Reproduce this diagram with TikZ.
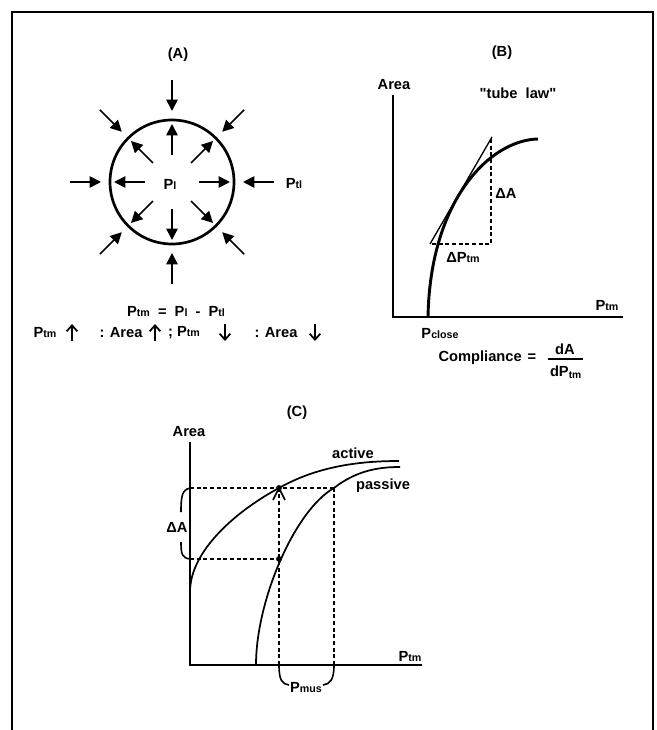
\documentclass[tikz,border=0pt]{standalone}
\usepackage{fontspec}
\setmainfont{Liberation Sans}
\newfontfamily\qfont{Liberation Sans}
\usetikzlibrary{arrows.meta,calc}
\newcommand\sm[1]{{\fontsize{8}{9}\selectfont #1}}
\newcommand\dq{{\qfont\bfseries "}}
\begin{document}
\begin{tikzpicture}[x=0.75pt,y=-0.75pt,
  font=\bfseries\fontsize{11}{13}\selectfont,
  bigarrow/.style={line width=1.3pt,-{Triangle[length=8.5pt,width=8.5pt]}},
  axisline/.style={line width=1.5pt},
  dashline/.style={line width=1.2pt,dash pattern=on 3pt off 2pt},
  lbl/.style={inner sep=0pt},
  smallarrow/.style={line width=1.3pt,-{Straight Barb[length=4.5pt,width=8pt,line width=1.3pt]}}]
\useasboundingbox (0,0) rectangle (656,730);
% frame
\draw[line width=1.5pt] (12,730) -- (12,12) -- (653,12) -- (653,730);

%%%%% (A)
\node[lbl] (labA) at (178,55) {(A)};
\node[circle,draw,line width=2pt,minimum size=93pt,inner sep=0pt] (c) at (172,182) {};
\node[lbl] (pl) at (170,184) {P\sm{l}};
\node[lbl] (ptl) at (294,184) {P\sm{tl}};
\foreach \a in {0,45,...,315} {
  \draw[bigarrow] ($(c.center)+(\a:102)$) -- ($(c.center)+(\a:71)$);
  \draw[bigarrow] ($(c.center)+(\a:27)$) -- ($(c.center)+(\a:58)$);
}
\node[lbl] (eq) at (176,312) {P\sm{tm} \ = \ P\sm{l} \ - \ P\sm{tl}};
\node[lbl] (r1) at (45,333) {P\sm{tm}};
\node[lbl] (r2) at (121,333) {: Area};
\node[lbl] (r3) at (184,333) {; P\sm{tm}};
\node[lbl] (r4) at (276,333) {: Area};
\coordinate (u1a) at (72,341); \coordinate (u1b) at (72,324);
\coordinate (u2a) at (155,341); \coordinate (u2b) at (155,324);
\coordinate (d1a) at (225,324); \coordinate (d1b) at (225,341);
\coordinate (d2a) at (315,324); \coordinate (d2b) at (315,341);
\draw[smallarrow] (u1a) -- (u1b);
\draw[smallarrow] (u2a) -- (u2b);
\draw[smallarrow] (d1a) -- (d1b);
\draw[smallarrow] (d2a) -- (d2b);

%%%%% (B)
\node[lbl] (labB) at (502,53) {(B)};
\node[lbl] (areaB) at (394,85) {Area};
\node[lbl] (tube) at (518,93) {\dq tube\ \ law\dq};
\coordinate (oB) at (393,317);
\coordinate (yB) at (393,95);
\coordinate (xB) at (623,317);
\draw[axisline] (yB) -- (oB) -- (xB);
\node[lbl] (ptmB) at (607,306) {P\sm{tm}};
\node[lbl] (pclose) at (440,334) {P\sm{close}};
\coordinate (b0) at (428,317);
\coordinate (b3) at (538,139);
\draw[line width=2.2pt] (b0) .. controls (430,200) and (490,140) .. (b3);
\coordinate (t0) at (430,244);
\coordinate (t1) at (492,137);
\coordinate (tc) at (491,244);
\draw[line width=1pt] (t0) -- (t1);
\draw[dashline] (432,244) -- (tc) -- (491,138);
\node[lbl] (dA) at (506,193) {ΔA};
\node[lbl] (dP) at (463,258) {ΔP\sm{tm}};
\node[lbl,anchor=east] (comp) at (522,358) {Compliance};
\node[lbl] (eqB) at (532,358) {=};
\node[lbl] (num) at (565,349) {dA};
\node[lbl] (den) at (566,372) {dP\textsubscript{tm}};
\draw[line width=0.9pt] (548,359) -- (583,359);

%%%%% (C)
\node[lbl] (labC) at (297,413) {(C)};
\node[lbl] (areaC) at (189,432) {Area};
\coordinate (oC) at (190,665);
\coordinate (yC) at (190,442);
\coordinate (xC) at (422,665);
\draw[axisline] (yC) -- (oC) -- (xC);
\node[lbl] (ptmC) at (410,656) {P\sm{tm}};
\node[lbl] (act) at (353,453) {active};
\node[lbl] (pas) at (383,486) {passive};
\coordinate (pa) at (279,488);
\coordinate (pp) at (279,559);
\coordinate (pq) at (334,488);
% active curve
\draw[line width=1.3pt] (190,592) .. controls (190,550) and (238,510) .. (pa)
   .. controls (318,466) and (360,461) .. (399,461);
% passive curve
\draw[line width=1.3pt] (256,665) .. controls (256,600) and (295,510) .. (pq)
   .. controls (357,470) and (380,467) .. (400,467);
% dashed
\draw[dashline] (190,488) -- (pq);
\draw[dashline] (190,559) -- (pp);
\draw[dashline] (279,665) -- (pa);
\draw[dashline] (334,665) -- (pq);
\draw[line width=1.2pt] (273,500) -- (pa) -- (285,500);
\fill (pa) circle[radius=2.2pt];
\fill (pp) circle[radius=2.2pt];
% Delta A brace
\node[lbl] (dAC) at (177,527) {ΔA};
\draw[line width=1.2pt] (190,488) .. controls (182,490) and (181,496) .. (181,512);
\draw[line width=1.2pt] (181,542) .. controls (181,554) and (182,558) .. (190,559);
% Pmus brace
\node[lbl] (pmus) at (306,687) {P\sm{mus}};
\draw[line width=1.2pt] (279,665) .. controls (279,680) and (282,684) .. (289,685);
\draw[line width=1.2pt] (323,685) .. controls (330,684) and (334,680) .. (334,665);
\end{tikzpicture}
\end{document}
